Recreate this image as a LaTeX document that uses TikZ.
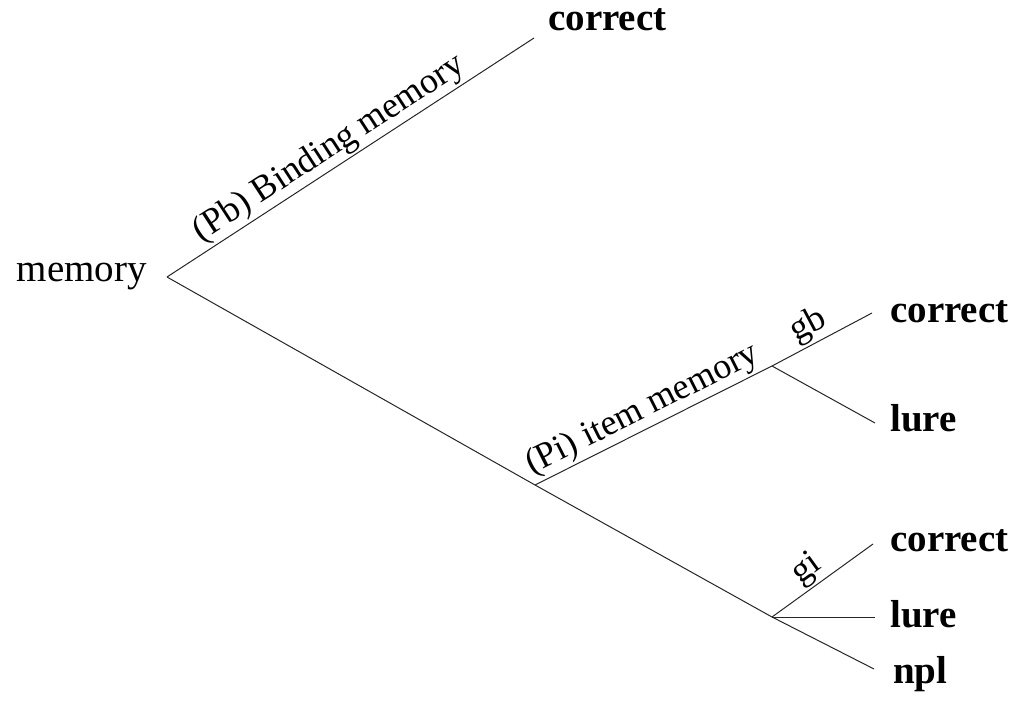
\documentclass[tikz,border=0pt]{standalone}
\usepackage{fontspec}
\setmainfont{Liberation Serif}
\begin{document}
\begin{tikzpicture}[x=1pt,y=-1pt,
  edge/.style={draw=black!85,line width=1pt},
  leaf/.style={anchor=west,inner sep=0pt,font=\fontsize{39}{39}\selectfont\bfseries},
  root/.style={anchor=east,inner sep=0pt,font=\fontsize{39}{39}\selectfont},
  lab/.style={sloped,above,inner sep=2pt,font=\fontsize{36}{36}\selectfont}]
\useasboundingbox (0,0) rectangle (1020,703);
% branch points
\coordinate (r) at (167,277);
\coordinate (t1) at (534,38);
\coordinate (p) at (535,485);
\coordinate (b) at (772,617);
\coordinate (pe) at (872,313);
\coordinate (g) at (772,366);
\coordinate (le) at (875,423);
\coordinate (ce2) at (873,544);
\coordinate (le2) at (875,617);
\coordinate (ne) at (874,669);
% texts
\node[root] (mem) at (147,277) {memory};
\node[leaf] (c1) at (548,20) {correct};
\node[leaf] (c2) at (890,312) {correct};
\node[leaf] (l1) at (890,418) {lure};
\node[leaf] (c3) at (890,541) {correct};
\node[leaf] (l2) at (890,614) {lure};
\node[leaf] (n1) at (893,674) {npl};
% edges
\draw[edge] (r) -- node[lab,pos=0.47]{(Pb) Binding memory} (t1);
\draw[edge] (r) -- (p) -- (b);
\draw[edge] (p) -- node[lab,pos=0.49]{(Pi) item memory} (g) -- node[lab,pos=0.45]{gb} (pe);
\draw[edge] (g) -- (le);
\draw[edge] (b) -- node[lab,pos=0.45]{gi} (ce2);
\draw[edge] (b) -- (le2);
\draw[edge] (b) -- (ne);
\end{tikzpicture}
\end{document}
